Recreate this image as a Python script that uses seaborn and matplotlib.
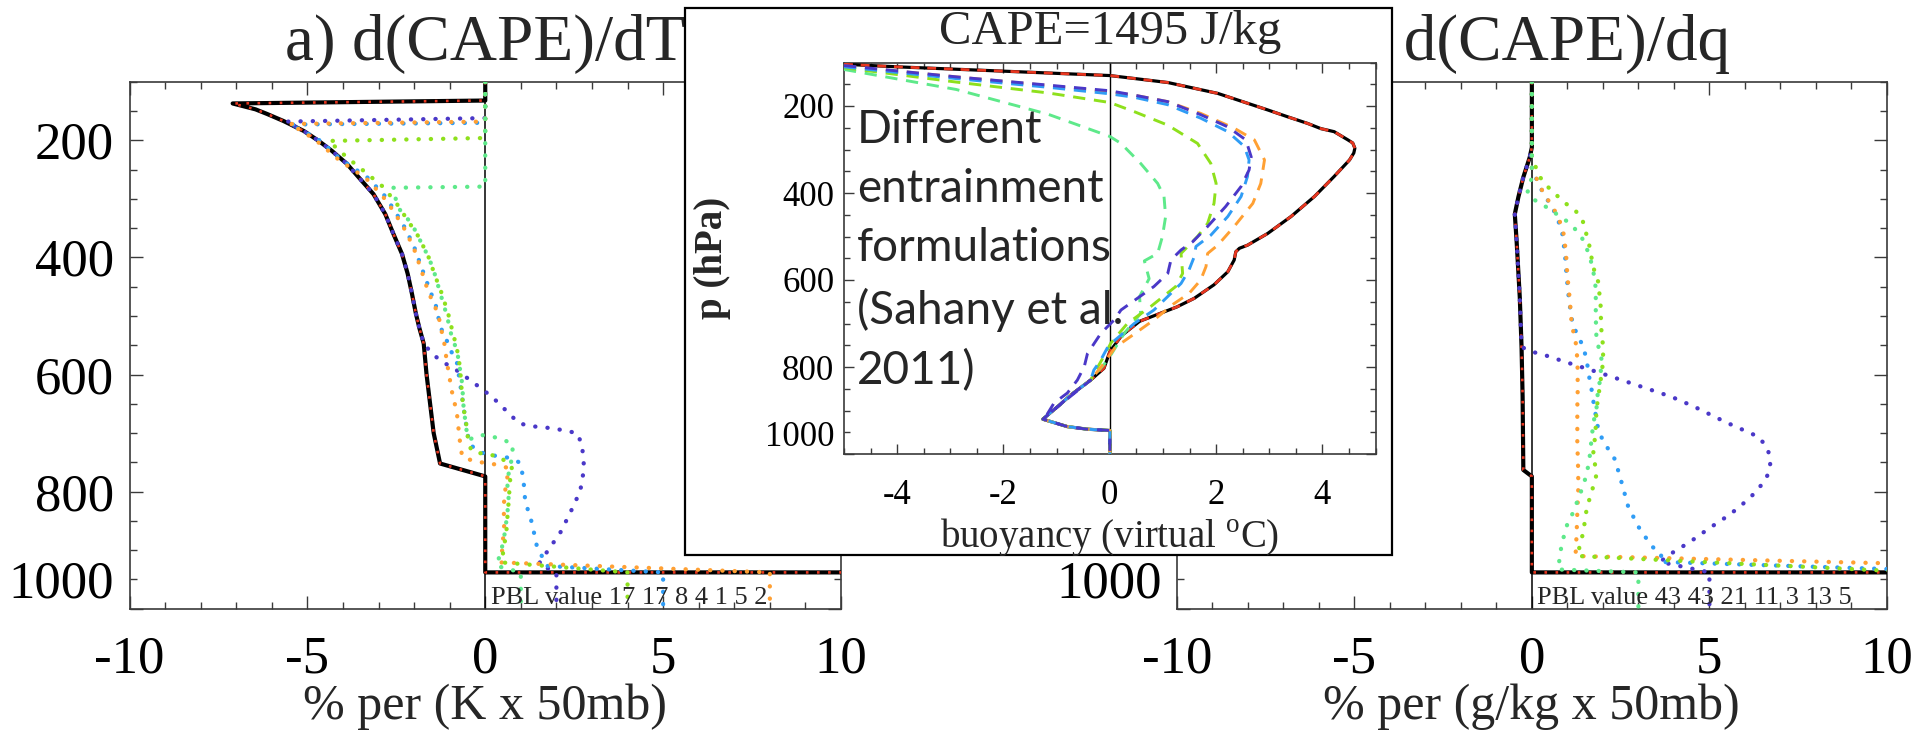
import matplotlib
matplotlib.use("Agg")
import matplotlib.pyplot as plt
import pandas as pd
import seaborn as sns
from matplotlib.patches import Rectangle
from matplotlib.ticker import MultipleLocator

# ---------------------------------------------------------------- data
# Each profile is a list of (value, pressure[hPa]) vertices, top to bottom.
SERIES = ["black", "red", "orange", "yellowgreen", "lightgreen", "blue", "purple"]
COLORS = {
    "black": "#000000",
    "red": "#e8361f",
    "orange": "#ffa033",
    "yellowgreen": "#8ee01c",
    "lightgreen": "#5ee98a",
    "blue": "#2f9cf5",
    "purple": "#4a38c8",
}

# boundary-layer values (off scale), one per series in SERIES order
PBL_LEVEL = 938
PBL_DT = [17, 17, 8, 4, 1, 5, 2]
PBL_DQ = [43, 43, 21, 11, 3, 13, 5]
CAPE_JKG = 1495

# ---- a) d(CAPE)/dT, % per (K x 50mb)
dT_black = [(0, 100), (0, 132), (-7.1, 137), (-6.46, 147), (-6.13, 155), (-5.67, 167),
            (-5.1, 184), (-4.68, 201), (-4.31, 218), (-3.89, 240), (-3.56, 263),
            (-3.14, 292), (-2.81, 326), (-2.58, 360), (-2.34, 394), (-2.18, 428),
            (-2.06, 462), (-1.95, 496), (-1.85, 521), (-1.73, 547), (-1.65, 600),
            (-1.55, 650), (-1.45, 700), (-1.27, 752), (0, 774), (0, 938)]
dT_red = list(dT_black)
dT_purple = [(0, 100), (0, 162), (-5.6, 168), (-5.1, 184), (-4.68, 201), (-4.31, 218),
             (-3.89, 240), (-3.56, 263), (-3.14, 292), (-2.81, 326), (-2.58, 360),
             (-2.34, 394), (-2.18, 428), (-2.06, 462), (-1.95, 496), (-1.85, 521),
             (-1.73, 547), (-1.5, 564), (-1.22, 578), (-0.89, 589), (-0.37, 612),
             (-0.09, 625), (0.19, 638), (0.66, 666), (0.94, 683), (1.26, 688),
             (1.92, 692), (2.58, 700), (2.72, 720), (2.78, 760), (2.67, 799),
             (2.39, 836), (2.11, 870), (1.69, 907), (1.5, 924)]
dT_blue = [(0, 100), (0, 170), (-5.5, 173), (-5.05, 186), (-4.63, 201), (-4.07, 232),
           (-3.32, 263), (-2.86, 292), (-2.58, 317), (-2.29, 346), (-2.01, 380),
           (-1.78, 419), (-1.54, 459), (-1.4, 479), (-1.26, 519), (-1.1, 539),
           (-0.98, 558), (-0.8, 578), (-0.7, 618), (-0.65, 638), (-0.56, 677),
           (-0.5, 700), (-0.45, 717), (-0.23, 731), (0.09, 737), (0.75, 743),
           (0.98, 751), (1.06, 774), (1.09, 791), (1.12, 814), (1.22, 836),
           (1.31, 853), (1.38, 873), (1.45, 893), (1.59, 910), (1.73, 927)]
dT_orange = [(0, 100), (0, 168), (-5.5, 172), (-5.1, 186), (-4.7, 203), (-4.1, 234),
             (-3.35, 265), (-2.9, 294), (-2.6, 319), (-2.3, 348), (-2.02, 382),
             (-1.8, 421), (-1.6, 459), (-1.45, 479), (-1.31, 499), (-1.26, 519),
             (-1.17, 538), (-1.08, 578), (-0.96, 621), (-0.9, 641), (-0.81, 660),
             (-0.77, 680), (-0.74, 700), (-0.7, 720), (-0.65, 740), (-0.33, 748),
             (0, 751), (0.33, 754), (0.66, 760), (0.61, 780), (0.55, 802),
             (0.52, 825), (0.53, 859), (0.5, 882), (0.47, 904), (0.45, 921)]
dT_yellowgreen = [(0, 100), (0, 196), (-4.4, 201), (-3.89, 229), (-3.42, 252),
                  (-2.86, 280), (-2.48, 309), (-2.11, 343), (-1.87, 365), (-1.59, 400),
                  (-1.4, 433), (-1.22, 462), (-1.1, 485), (-1.03, 499), (-0.95, 519),
                  (-0.8, 555), (-0.74, 575), (-0.7, 595), (-0.65, 638), (-0.61, 658),
                  (-0.55, 677), (-0.47, 717), (-0.38, 731), (0.05, 737), (0.37, 739),
                  (0.75, 757), (0.7, 780), (0.68, 797), (0.66, 817), (0.63, 836),
                  (0.61, 859), (0.56, 882), (0.51, 899), (0.47, 921)]
dT_lightgreen = [(0, 100), (0, 279), (-2.6, 281), (-2.45, 315), (-2.06, 343),
                 (-1.83, 371), (-1.59, 400), (-1.45, 422), (-1.26, 462), (-1.08, 499),
                 (-0.94, 536), (-0.8, 558), (-0.75, 575), (-0.65, 615), (-0.61, 655),
                 (-0.53, 694), (-0.45, 711), (-0.14, 703), (0.19, 706), (0.51, 711),
                 (0.78, 720), (0.75, 740), (0.7, 760), (0.61, 780), (0.66, 814),
                 (0.61, 843), (0.56, 865), (0.51, 887), (0.42, 904), (0.33, 927)]

# ---- b) d(CAPE)/dq, % per (g/kg x 50mb)
dQ_black = [(0, 100), (0, 212), (-0.06, 229), (-0.24, 263), (-0.38, 297), (-0.48, 326),
            (-0.43, 371), (-0.34, 468), (-0.29, 553), (-0.26, 638), (-0.25, 700),
            (-0.24, 763), (0, 774), (0, 938)]
dQ_red = list(dQ_black)
dQ_purple = [(0, 100), (0, 212), (-0.06, 229), (-0.24, 263), (-0.38, 297), (-0.48, 326),
             (-0.43, 371), (-0.34, 468), (-0.29, 553), (0, 561), (0.37, 567),
             (1.02, 580), (1.96, 598), (2.95, 618), (3.93, 638), (4.54, 654),
             (5.48, 682), (6.37, 706), (6.61, 723), (6.72, 743), (6.7, 763),
             (6.56, 782), (6.14, 811), (5.58, 839), (5.01, 862), (4.45, 886),
             (3.89, 907), (3.61, 920)]
dQ_orange = [(0, 100), (0, 250), (0.08, 258), (0.23, 279), (0.39, 296), (0.58, 313),
             (0.74, 331), (0.88, 354), (0.96, 391), (1.0, 431), (1.07, 473),
             (1.12, 513), (1.26, 553), (1.29, 592), (1.29, 635), (1.28, 655),
             (1.28, 717), (1.3, 754), (1.31, 791), (1.28, 836), (1.26, 873),
             (1.23, 910)]
dQ_blue = [(0, 100), (0, 252), (0.1, 262), (0.25, 282), (0.4, 298), (0.58, 315),
           (0.72, 333), (0.85, 356), (0.93, 393), (0.98, 433), (1.05, 475),
           (1.15, 515), (1.45, 553), (1.5, 565), (1.59, 592), (1.62, 606),
           (1.68, 625), (1.73, 645), (1.8, 670), (1.87, 694), (2.01, 714),
           (2.34, 745), (2.53, 785), (2.71, 825), (2.99, 859), (3.37, 893),
           (3.65, 907), (3.6, 920)]
dQ_yellowgreen = [(0, 100), (0, 230), (0.23, 263), (0.46, 280), (0.7, 294), (0.98, 309),
                  (1.24, 321), (1.43, 337), (1.52, 357), (1.61, 377), (1.73, 417),
                  (1.87, 442), (1.94, 485), (1.95, 519), (2.01, 555), (2.0, 581),
                  (1.92, 618), (1.87, 638), (1.82, 660), (1.79, 700), (1.73, 734),
                  (1.82, 771), (1.73, 791), (1.63, 811), (1.54, 831), (1.49, 851),
                  (1.45, 870), (1.35, 890), (1.3, 910)]
dQ_lightgreen = [(0, 100), (0, 265), (-0.1, 277), (-0.12, 290), (0.08, 302), (0.41, 314),
                 (0.7, 326), (0.96, 337), (1.21, 351), (1.4, 365), (1.63, 397),
                 (1.77, 436), (1.8, 455), (1.8, 502), (1.82, 541), (1.96, 570),
                 (1.93, 610), (1.87, 621), (1.82, 658), (1.73, 683), (1.61, 751),
                 (1.45, 791), (1.3, 811), (1.21, 831), (1.02, 851), (0.93, 870),
                 (0.84, 890), (0.79, 910), (0.74, 933)]

# ---- inset: parcel buoyancy (virtual degC)
buoy_tail = [(-0.36, 830), (-0.73, 864), (-0.98, 891), (-1.26, 920), (-0.8, 937),
             (-0.42, 943), (0, 946), (0, 1000)]
buoy_black = [(-5, 104), (-3.99, 110), (-1.98, 120), (0, 130), (1.09, 146), (2.03, 171),
              (2.97, 209), (3.35, 225), (3.72, 240), (3.97, 252), (4.22, 259),
              (4.48, 278), (4.57, 285), (4.61, 297), (4.59, 308), (4.51, 324),
              (4.22, 362), (3.85, 408), (3.41, 454), (2.97, 493), (2.59, 520),
              (2.44, 527), (2.37, 535), (2.34, 554), (2.22, 581), (1.96, 611),
              (1.59, 642), (1.26, 662), (0.56, 695), (0.22, 728), (0, 765),
              (-0.11, 803)]
buoy_red = list(buoy_black)
buoy_orange = [(-5, 108), (-2.89, 133), (-1.16, 153), (0, 168), (0.46, 175), (1.09, 190),
               (1.71, 217), (2.34, 251), (2.72, 278), (2.91, 324), (2.84, 378),
               (2.69, 424), (2.34, 477), (2.03, 520), (1.84, 539), (1.81, 569),
               (1.71, 600), (1.49, 631), (1.2, 655), (0.85, 690), (0.45, 725),
               (0.1, 755), (-0.1, 790)]
buoy_blue = [(-5, 110), (-2.89, 137), (-1.16, 157), (0, 172), (0.46, 180), (1.09, 197),
             (1.71, 228), (2.22, 259), (2.53, 293), (2.62, 324), (2.59, 362),
             (2.47, 408), (2.22, 454), (1.9, 497), (1.62, 523), (1.59, 546),
             (1.49, 577), (1.34, 608), (1.09, 638), (0.83, 669), (0.46, 700),
             (0.14, 734), (-0.02, 750), (-0.17, 784), (-0.3, 807)]
buoy_purple = [(-5, 107), (-2.89, 133), (-1.16, 152), (0, 165), (0.46, 175), (1.09, 190),
               (1.71, 220), (2.22, 248), (2.56, 278), (2.66, 317), (2.62, 347),
               (2.47, 385), (2.18, 431), (1.84, 477), (1.56, 512), (1.34, 531),
               (1.15, 554), (1.09, 585), (0.83, 615), (0.52, 642), (0.21, 669),
               (0.08, 692), (-0.17, 723), (-0.42, 769), (-0.48, 799), (-0.61, 830),
               (-0.8, 860), (-1.05, 883), (-1.2, 913)]
buoy_yellowgreen = [(-5, 112), (-2.89, 145), (-1.16, 170), (0, 192), (0.46, 213),
                    (1.09, 244), (1.65, 286), (1.9, 332), (2.0, 378), (1.96, 424),
                    (1.84, 470), (1.65, 500), (1.34, 539), (1.37, 585), (1.24, 615),
                    (0.77, 661), (0.33, 700), (0.02, 745), (-0.1, 773), (-0.25, 805)]
buoy_lightgreen = [(-5, 116), (-2.89, 162), (-1.16, 219), (0, 270), (0.21, 286),
                   (0.58, 332), (0.9, 378), (1.02, 408), (1.05, 454), (0.99, 500),
                   (0.9, 539), (0.65, 556), (0.74, 597), (0.56, 638), (0.58, 677),
                   (0.27, 723), (-0.04, 784), (-0.2, 807)]

# ---------------------------------------------------------------- style
sns.set_theme(style="ticks")
plt.rcParams.update({
    "font.family": ["Liberation Serif", "DejaVu Serif"],
    "mathtext.fontset": "custom",
    "mathtext.rm": "Liberation Serif",
    "axes.unicode_minus": False,
    "axes.linewidth": 1.2,
    "axes.edgecolor": "#3a3a3a",
    "xtick.color": "#3a3a3a",
    "ytick.color": "#3a3a3a",
    "xtick.labelcolor": "black",
    "ytick.labelcolor": "black",
})

W, H = 1921, 733


def px_rect(x0, y0, x1, y1):
    """Figure-fraction rectangle from pixel corners (origin top-left)."""
    return [x0 / W, 1 - y1 / H, (x1 - x0) / W, (y1 - y0) / H]


def to_frame(points):
    return pd.DataFrame(points, columns=["x", "p"])


def with_pbl(points, pbl):
    """Close a profile with its boundary-layer value below PBL_LEVEL."""
    return list(points) + [(pbl, PBL_LEVEL), (pbl, 1000)]


def profile(ax, points, color, **style):
    sns.lineplot(data=to_frame(points), x="x", y="p", sort=False, estimator=None,
                 ax=ax, color=color, **style)


def frame_axes(ax, xlim, xmaj, xmin, ylim, ymaj, ymin, fs, xpad, ypad, major_len, minor_len):
    ax.set_xlim(*xlim)
    ax.set_ylim(*ylim)
    ax.set_xticks(xmaj)
    ax.set_yticks(ymaj)
    ax.xaxis.set_minor_locator(MultipleLocator(xmin))
    ax.yaxis.set_minor_locator(MultipleLocator(ymin))
    ax.tick_params(which="both", direction="in", top=True, right=True,
                   labeltop=False, labelright=False, width=1.0)
    ax.tick_params(which="major", length=major_len)
    ax.tick_params(which="minor", length=minor_len)
    ax.tick_params(axis="x", labelsize=fs, pad=xpad)
    ax.tick_params(axis="y", labelsize=fs, pad=ypad)
    ax.set_xlabel("")
    ax.set_ylabel("")
    # the bottom pressure label sits just above its tick
    ax.yaxis.get_major_ticks()[-1].label1.set_verticalalignment("bottom")


fig = plt.figure(figsize=(W / 100, H / 100), dpi=100)

ax_a = fig.add_axes(px_rect(129.5, 81.8, 841, 608.7))
ax_b = fig.add_axes(px_rect(1176.7, 81.8, 1887, 608.7))

panels = [
    (ax_a, "a) d(CAPE)/dT", "% per (K x 50mb)", PBL_DT,
     {"black": dT_black, "red": dT_red, "orange": dT_orange, "yellowgreen": dT_yellowgreen,
      "lightgreen": dT_lightgreen, "blue": dT_blue, "purple": dT_purple}),
    (ax_b, "b) d(CAPE)/dq", "% per (g/kg x 50mb)", PBL_DQ,
     {"black": dQ_black, "red": dQ_red, "orange": dQ_orange, "yellowgreen": dQ_yellowgreen,
      "lightgreen": dQ_lightgreen, "blue": dQ_blue, "purple": dQ_purple}),
]

dot_style = dict(lw=3.1, linestyle=(0, (0.05, 2.8)), dash_capstyle="round")
for ax, title, xlabel, pbl_vals, curves in panels:
    ax.axvline(0, color="black", lw=1.1, zorder=2)
    pbl = dict(zip(SERIES, pbl_vals))
    profile(ax, with_pbl(curves["black"], pbl["black"]), COLORS["black"], lw=3.0, zorder=3)
    profile(ax, with_pbl(curves["red"], pbl["red"]), COLORS["red"], lw=1.9,
            linestyle=(0, (1.0, 3.2)), zorder=4)
    for name in ["purple", "blue", "orange", "yellowgreen", "lightgreen"]:
        profile(ax, with_pbl(curves[name], pbl[name]), COLORS[name], zorder=5, **dot_style)
    frame_axes(ax, (-10, 10), [-10, -5, 0, 5, 10], 1, (1000, 100),
               [200, 400, 600, 800, 1000], 50, fs=38, xpad=19, ypad=11,
               major_len=9.5, minor_len=5)
    ax.set_title(title, fontsize=47, pad=16)
    ax.set_xlabel(xlabel, fontsize=36, labelpad=0)
    ax.text(0.15, 992, "PBL value " + " ".join(str(v) for v in pbl_vals),
            fontsize=19, ha="left", va="baseline", zorder=6)

# the right panel's upper pressure labels lie under the inset box
for lab in ax_b.get_yticklabels()[:-1]:
    lab.set_visible(False)

# ---------------------------------------------------------------- inset
box = Rectangle((684.6 / W, 1 - 555 / H), 707 / W, 547.1 / H, transform=fig.transFigure,
                facecolor="white", edgecolor="black", lw=1.6, zorder=5)
fig.add_artist(box)

ax_in = fig.add_axes(px_rect(844, 62.5, 1375.6, 454))
ax_in.set_zorder(10)
ax_in.axvline(0, color="black", lw=1.0, zorder=2)

inset_curves = {"black": buoy_black, "red": buoy_red, "orange": buoy_orange,
                "yellowgreen": buoy_yellowgreen, "lightgreen": buoy_lightgreen,
                "blue": buoy_blue, "purple": buoy_purple}
profile(ax_in, buoy_black + buoy_tail, COLORS["black"], lw=2.3, zorder=3)
profile(ax_in, buoy_red + buoy_tail, COLORS["red"], lw=2.0,
        linestyle=(0, (3.2, 2.8)), zorder=4)
for name in ["lightgreen", "yellowgreen", "orange", "blue", "purple"]:
    profile(ax_in, inset_curves[name] + buoy_tail, COLORS[name], lw=2.1,
            linestyle=(0, (4.2, 3.0)), zorder=5)

frame_axes(ax_in, (-5, 5), [-4, -2, 0, 2, 4], 0.5, (1000, 100),
           [200, 400, 600, 800, 1000], 50, fs=25, xpad=18, ypad=7,
           major_len=7, minor_len=4)
ax_in.set_title(f"CAPE={CAPE_JKG} J/kg", fontsize=35, pad=13)
ax_in.set_xlabel(r"buoyancy (virtual $^{\rm o}$C)", fontsize=28, labelpad=3)
ax_in.set_ylabel("p (hPa)", fontsize=28, fontweight="bold", labelpad=24)

ax_in.text(0.024, 0.88, "Different\nentrainment\nformulations\n(Sahany et al.\n2011)",
           transform=ax_in.transAxes, ha="left", va="top", fontsize=33,
           family=["Lato", "DejaVu Sans"], linespacing=1.5, zorder=6)

fig.savefig("out.png", dpi=100)
